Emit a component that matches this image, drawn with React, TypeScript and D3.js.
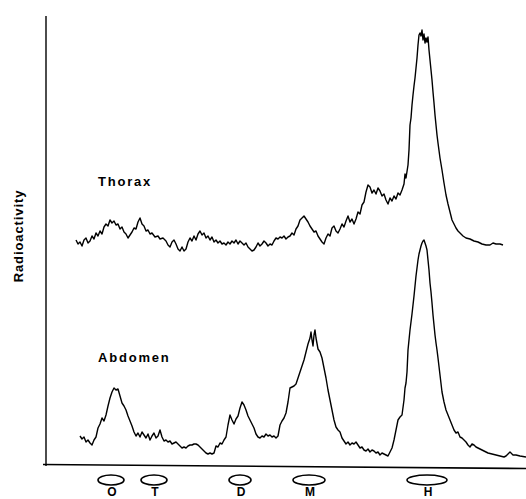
import React from 'react';
import { scaleLinear, line } from 'd3';

// migration distance (arbitrary units) and radioactivity (arbitrary units)
const thorax: [number, number][] = [
  [30,226],[32,222],[34,224],[36,220],[38,226],[40,228],[42,223],[44,225],[46,230],[48,227],
  [50,233],[52,230],[54,235],[56,232],[58,239],[60,242],[62,240],[64,246],[66,243],[68,245],
  [70,241],[72,242],[74,237],[76,239],[78,234],[80,232],[82,228],[84,231],[86,234],[88,238],
  [90,237],[92,244],[94,248],[96,242],[98,240],[100,235],[102,236],[104,232],[106,233],[109,229],
  [112,230],[114,227],[117,228],[120,225],[122,221],[124,219],[126,224],[128,226],[130,222],[132,217],
  [134,215],[136,219],[138,215],[140,217],[142,224],[144,228],[146,225],[148,230],[150,226],[152,232],
  [154,235],[156,231],[158,233],[160,228],[162,230],[164,226],[166,229],[168,224],[170,226],[172,223],
  [174,225],[176,222],[178,223],[180,221],[182,224],[184,222],[186,225],[188,223],[190,226],[192,222],
  [194,225],[196,223],[198,221],[200,223],[202,219],[204,217],[206,215],[208,216],[210,219],[212,223],
  [214,220],[216,222],[218,225],[220,223],[222,220],[224,222],[226,221],[228,225],[230,228],[232,227],
  [234,229],[236,228],[238,230],[240,227],[242,229],[244,230],[246,233],[248,231],[250,237],[252,240],
  [254,246],[256,248],[258,250],[260,247],[262,244],[264,240],[266,237],[268,234],[270,235],[272,230],
  [274,227],[276,224],[278,222],[280,228],[282,232],[284,230],[286,238],[288,240],[290,235],[292,233],
  [294,237],[296,242],[298,239],[300,245],[302,250],[304,244],[306,247],[308,242],[310,247],[312,254],
  [314,252],[316,261],[318,264],[320,274],[322,281],[324,279],[326,273],[328,276],[330,272],[332,278],
  [334,275],[336,270],[338,272],[340,266],[342,262],[344,268],[346,265],[348,270],[350,267],[352,273],
  [354,271],[356,276],[358,282],[359,292],[360,288],[362,301],[363,316],[364,341],[365,348],[366,361],
  [367,371],[368,380],[369,388],[370,398],[371,408],[372,421],[373,431],[374,433],[375,430],[376,436],
  [377,426],[378,432],[379,423],[380,428],[381,424],[382,429],[383,416],[384,406],[385,396],[386,386],
  [387,374],[388,363],[389,351],[390,341],[391,331],[392,323],[394,308],[396,296],[398,283],[400,271],
  [402,262],[404,254],[406,246],[408,242],[410,238],[412,235],[414,233],[417,230],[420,228],[424,227],
  [428,225],[432,224],[436,222],[440,221],[444,221],[447,223],[450,222],[454,222],[457,221],
];

const abdomen: [number, number][] = [
  [34,30],[36,27],[38,29],[40,24],[42,26],[44,23],[46,21],[48,26],[50,29],[52,38],
  [54,42],[56,48],[58,45],[60,51],[62,60],[64,68],[66,74],[68,78],[70,76],[72,77],
  [74,70],[76,63],[78,60],[80,56],[82,50],[84,45],[86,40],[88,34],[90,30],[92,33],
  [94,29],[96,34],[98,31],[100,28],[102,32],[104,26],[106,30],[108,33],[110,28],[112,30],
  [114,36],[116,29],[118,25],[120,26],[122,24],[124,25],[126,22],[128,23],[130,24],[132,22],
  [134,20],[136,18],[138,19],[140,18],[142,20],[144,21],[146,21],[148,22],[150,22],[152,21],
  [154,19],[156,17],[158,15],[160,13],[162,12],[164,13],[166,12],[168,13],[170,20],[172,19],
  [174,23],[176,22],[178,26],[180,29],[182,41],[184,51],[186,46],[188,42],[190,47],[192,50],
  [194,58],[196,64],[198,61],[200,56],[202,50],[204,46],[206,42],[208,38],[210,32],[212,29],
  [214,28],[216,30],[218,29],[220,32],[222,30],[224,31],[226,29],[228,30],[230,28],[232,30],
  [234,41],[236,45],[238,48],[240,53],[242,64],[244,78],[246,79],[248,80],[250,82],[252,88],
  [254,94],[256,100],[258,106],[260,114],[262,122],[264,128],[265,134],[266,126],[267,120],[268,131],
  [269,136],[270,128],[272,117],[274,114],[276,108],[278,98],[280,88],[282,76],[284,66],[286,56],
  [288,46],[290,39],[292,36],[294,34],[296,28],[298,25],[300,22],[302,24],[304,21],[306,23],
  [308,22],[310,24],[312,21],[314,18],[316,19],[318,16],[320,15],[322,17],[324,14],[326,16],
  [328,15],[330,13],[332,14],[334,11],[336,13],[338,12],[340,11],[342,10],[344,14],[346,18],
  [348,26],[350,36],[352,46],[354,49],[356,51],[358,66],[359,78],[360,83],[361,94],[362,116],
  [363,126],[364,136],[365,144],[366,152],[367,161],[368,170],[369,180],[370,190],[371,198],[372,206],
  [373,212],[374,216],[375,220],[376,223],[377,225],[378,226],[379,223],[380,220],[381,216],[382,206],
  [383,196],[384,183],[385,174],[386,163],[387,151],[388,141],[389,131],[390,123],[391,116],[392,108],
  [394,91],[396,74],[398,64],[400,56],[402,51],[404,46],[406,41],[408,36],[410,33],[412,34],
  [414,29],[416,28],[418,26],[420,24],[422,21],[424,19],[426,22],[428,21],[430,19],[432,18],
  [434,17],[438,15],[442,13],[446,12],[450,11],[454,10],[458,9],[460,10],[462,12],[464,14],
  [467,11],[470,11],[474,10],[480,9],
];

// marker bands under the axis
const bandLabels = ['O', 'T', 'D', 'M', 'H'];
const bandPos = [65, 108, 194, 263, 381];
const bandWidth = [26, 26, 22, 32, 40];

const seriesLabels = ['Thorax', 'Abdomen'];
const seriesLabelAct = [280, 104];

export default function App() {
  const width = 526, height = 499;
  const x = scaleLinear().domain([0, 480]).range([46, 526]);
  const y = scaleLinear().domain([0, 450]).range([466, 16]);

  const lineF = line<[number, number]>()
    .x(d => x(d[0]))
    .y(d => y(d[1]));

  const font = 'Liberation Sans, Arial, Helvetica, sans-serif';

  return (
    <svg width={width} height={height}
      style={{ position: 'absolute', left: 0, top: 0, background: '#fff' }}>
      {/* axes */}
      <line x1={x(0)} x2={x(0)} y1={y(450)} y2={y(0)} stroke="#000" strokeWidth={1.4} />
      <line x1={x(-3)} x2={x(480)} y1={y(1.5)} y2={y(-2.5)} stroke="#000" strokeWidth={1.6} />

      <text transform={`translate(23,${y(230)}) rotate(-90)`} textAnchor="middle"
        fontFamily={font} fontSize={13} fontWeight="bold" letterSpacing={0.9}>Radioactivity</text>

      {[thorax, abdomen].map((d, i) => (
        <path key={i} d={lineF(d) || ''} fill="none" stroke="#000" strokeWidth={1.4}
          strokeLinejoin="round" />
      ))}

      {seriesLabels.map((s, i) => (
        <text key={s} x={x(52)} y={y(seriesLabelAct[i])} fontFamily={font} fontSize={13}
          fontWeight="bold" letterSpacing={1.8}>{s}</text>
      ))}

      {bandLabels.map((b, i) => (
        <g key={b}>
          <ellipse cx={x(bandPos[i])} cy={480} rx={(x(bandWidth[i]) - x(0)) / 2} ry={5}
            fill="none" stroke="#000" strokeWidth={1.6} />
          <text x={x(bandPos[i]) + 1} y={496} textAnchor="middle" fontFamily={font}
            fontSize={12} fontWeight="bold">{b}</text>
        </g>
      ))}
    </svg>
  );
}
